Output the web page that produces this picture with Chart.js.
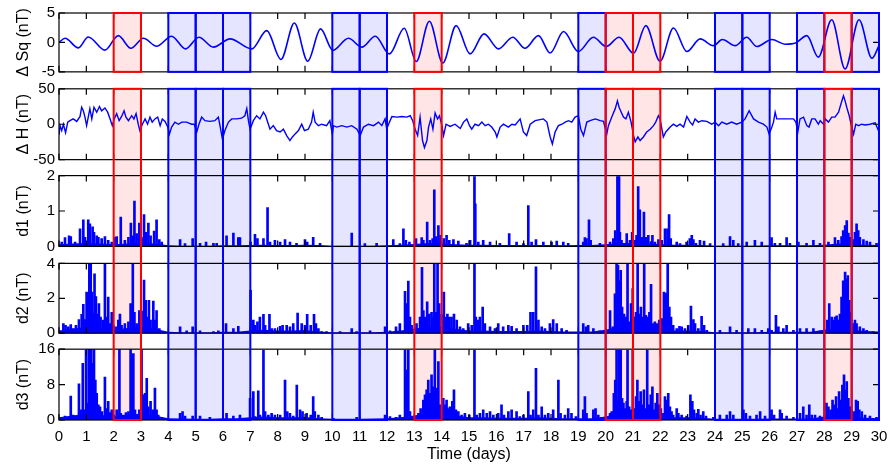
<!DOCTYPE html>
<html>
<head>
<meta charset="utf-8">
<script src="https://cdn.jsdelivr.net/npm/chart.js@4.4.1/dist/chart.umd.min.js"></script>
<style>
  body { margin: 0; background: #fff; }
  #wrap { width: 891px; height: 466px; }
</style>
</head>
<body>
<div id="wrap"><canvas id="myChart" width="891" height="466"></canvas></div>
<script>
// ---- data ----
const dayTicks = [0,1,2,3,4,5,6,7,8,9,10,11,12,13,14,15,16,17,18,19,20,21,22,23,24,25,26,27,28,29,30];
const sqTicks = [-5, 0, 5];
const hTicks = [-50, 0, 50];
const d1Ticks = [0, 1, 2];
const d2Ticks = [0, 2, 4];
const d3Ticks = [0, 8, 16];

// shaded days (box from day to day+1)
const redBoxes = [2, 13, 20, 21, 28];
const blueBoxes = [4, 5, 6, 10, 11, 19, 24, 25, 27, 29];

// delta Sq: turning points [day, nT]
const sqCurve = [[0,0],[0.22,0.7],[0.71,-0.93],[1.07,0.93],[1.68,-1.3],[2.17,1.15],[2.63,-1.0],[3.09,0.7],[3.57,-0.65],
  [4.12,1.05],[4.63,-1.1],[5.12,0.88],[5.65,-0.8],[6.26,0.6],[7.05,-1.1],[7.6,2.0],[8.12,-2.9],[8.61,3.3],[9.1,-3.2],
  [9.57,2.3],[10.02,-1.35],[10.59,0.7],[11.08,-0.8],[11.57,1.05],[12.09,-1.95],[12.63,2.4],[13.07,-3.25],[13.55,3.6],
  [14.04,-3.5],[14.53,2.85],[15.04,-1.95],[15.55,1.45],[16.08,-1.1],[16.6,0.88],[17.05,-1.0],[17.54,1.15],[17.97,-1.8],
  [18.46,1.85],[19.0,-1.55],[19.55,0.88],[20.02,-0.7],[20.49,0.88],[21.02,-1.85],[21.47,2.85],[21.99,-3.2],[22.48,2.45],
  [22.97,-1.55],[23.46,0.6],[23.94,-0.55],[24.27,0.5],[24.74,-0.55],[25.16,0.88],[25.53,-0.7],[26.08,0.5],[26.57,-0.3],
  [26.95,-0.1],[27.36,1.15],[27.78,-2.5],[28.27,3.85],[28.76,-4.5],[29.27,3.85],[29.74,-2.7],[30,-0.55]];

// delta H [day, nT]
const dH = [[0,-15],[0.04,-2],[0.1,-9],[0.16,0],[0.24,-12],[0.32,3],[0.4,5],[0.52,7.5],[0.65,4],[0.77,11],[0.83,24],[0.89,19],
  [0.95,10],[1.01,-2],[1.07,10],[1.13,22],[1.2,7.5],[1.28,24],[1.38,17],[1.48,25],[1.56,19],[1.68,23],[1.78,17],[1.87,7.5],
  [1.95,-2],[2.02,7.5],[2.11,15],[2.2,5],[2.29,11],[2.38,19],[2.45,10],[2.54,5],[2.66,12],[2.74,7.5],[2.82,15],[2.9,0],
  [2.96,-9],[3.05,0],[3.15,7.5],[3.24,0],[3.33,10],[3.41,3],[3.51,7.5],[3.61,10],[3.7,-2],[3.78,7.5],[3.88,4],[3.98,-4],
  [4.04,-14],[4.12,-4],[4.24,3],[4.37,0],[4.49,3],[4.67,3],[4.85,0],[4.95,0],[5.04,-11],[5.12,0],[5.22,10],[5.34,5],
  [5.52,4],[5.7,5],[5.83,10],[5.89,-2],[5.98,-21],[6.07,-9],[6.2,3],[6.32,7.5],[6.5,7.5],[6.68,8.5],[6.8,12],[6.87,22],
  [6.93,5],[6.99,-7],[7.11,5],[7.23,12],[7.35,7.5],[7.48,17],[7.56,12],[7.66,0],[7.72,-7],[7.84,-2],[7.96,-9],[8.09,-11],
  [8.21,-7],[8.33,-16],[8.45,-23],[8.54,-18],[8.63,-14],[8.76,-9],[8.88,0],[8.98,-9],[9.12,-7],[9.24,3],[9.3,17],[9.37,3],
  [9.49,-2],[9.61,0],[9.79,-2],[9.91,5],[10.0,-14],[10.04,-2],[10.16,-4],[10.35,-2],[10.53,-4],[10.71,-2],[10.9,-7],
  [11.02,-16],[11.14,-4],[11.32,0],[11.51,-2],[11.69,3],[11.81,-2],[11.93,7.5],[11.99,-7],[12.09,3],[12.18,11],[12.36,10],
  [12.54,11],[12.72,10],[12.85,12],[12.94,5],[13.03,-7],[13.12,-16],[13.21,10],[13.3,-23],[13.37,-33],[13.46,-23],
  [13.52,-4],[13.6,7.5],[13.68,-7],[13.76,16],[13.85,7.5],[13.92,12],[14.01,-2],[14.07,-16],[14.16,0],[14.31,-3],[14.49,0],
  [14.68,-6],[14.8,3],[14.92,7.5],[15.02,-2],[15.1,-7],[15.22,0],[15.35,-2],[15.47,3],[15.59,-2],[15.71,0],[15.83,-4],
  [15.96,-11],[16.02,-18],[16.14,-4],[16.26,0],[16.44,-4],[16.57,0],[16.69,-1],[16.87,7.5],[16.99,-11],[17.11,-16],
  [17.24,0],[17.42,5],[17.6,6.5],[17.72,7.5],[17.85,3],[17.97,-18],[18.05,-28],[18.15,-11],[18.27,-2],[18.4,0],[18.52,3],
  [18.64,5],[18.76,3],[18.88,10],[19.0,12],[19.09,-7],[19.19,-16],[19.31,3],[19.43,5],[19.62,7.5],[19.8,5],[19.92,4],
  [20.04,-14],[20.1,-2],[20.22,10],[20.35,22],[20.43,33],[20.49,24],[20.57,17],[20.65,10],[20.74,7.5],[20.83,17],[20.93,3],
  [21.02,-16],[21.08,-25],[21.18,-18],[21.26,-23],[21.38,-18],[21.5,-11],[21.63,-7],[21.75,-2],[21.83,3],[21.93,12],
  [21.99,7.5],[22.11,-18],[22.2,-11],[22.36,-4],[22.48,0],[22.6,-3],[22.72,0],[22.85,-4],[22.97,11],[23.09,3],[23.18,-1],
  [23.27,7.5],[23.39,3],[23.52,5],[23.7,4],[23.88,0],[24.0,3],[24.13,-2],[24.25,3],[24.43,0],[24.61,3],[24.79,0],[24.98,3],
  [25.1,7.5],[25.25,19],[25.41,7.5],[25.59,3],[25.77,0],[25.9,-4],[25.98,-14],[26.08,-4],[26.14,3],[26.2,17],[26.26,7.5],
  [26.44,7.5],[26.69,7.5],[26.87,7.5],[26.96,3],[27.03,-11],[27.11,7.5],[27.24,10],[27.36,-2],[27.44,-4],[27.54,7.5],
  [27.66,7.5],[27.78,0],[27.85,5],[27.97,0],[28.03,7.5],[28.15,3],[28.27,10],[28.39,10],[28.52,17],[28.61,29],[28.7,40],
  [28.76,33],[28.82,24],[28.91,12],[28.98,0],[29.07,-14],[29.15,0],[29.25,-2],[29.37,0],[29.49,-1],[29.67,0],[29.86,2],
  [29.96,-7],[30,-11]];

// detail spikes [day, nT]
const d1Spikes = [[0.1,0.12],[0.22,0.25],[0.37,0.3],[0.43,0.28],[0.59,0.12],[0.77,0.5],[0.89,0.75],[0.95,0.26],[1.07,0.75],
  [1.13,0.64],[1.23,0.55],[1.28,0.4],[1.38,0.3],[1.44,0.26],[1.56,0.22],[1.68,0.28],[1.8,0.17],[1.93,0.12],[2.05,0.26],
  [2.11,0.28],[2.26,0.83],[2.41,0.17],[2.54,0.26],[2.63,0.66],[2.7,0.3],[2.76,1.28],[2.84,0.36],[2.94,0.66],[3.02,0.25],
  [3.11,0.9],[3.18,0.4],[3.27,0.66],[3.35,0.3],[3.48,0.43],[3.57,0.75],[3.67,0.19],[3.76,0.12],[4.43,0.19],[4.61,0.08],
  [4.89,0.22],[5.16,0.09],[5.38,0.12],[5.65,0.09],[5.77,0.09],[6.13,0.3],[6.38,0.38],[6.56,0.25],[6.62,0.25],[7.01,0.12],
  [7.17,0.34],[7.26,0.22],[7.48,0.22],[7.63,1.1],[7.72,0.12],[7.9,0.17],[8.09,0.12],[8.27,0.19],[8.45,0.12],[8.69,0.09],
  [9.0,0.19],[9.08,0.12],[9.3,0.26],[9.55,0.09],[10.71,0.38],[11.19,0.08],[11.62,0.09],[12.23,0.19],[12.47,0.08],
  [12.6,0.5],[12.69,0.17],[12.82,0.12],[13.06,0.22],[13.27,0.25],[13.33,0.17],[13.47,0.69],[13.57,0.17],[13.67,0.22],
  [13.73,1.6],[13.79,0.28],[13.88,0.59],[13.96,0.31],[14.08,0.22],[14.18,0.31],[14.28,0.17],[14.43,0.19],[14.61,0.15],
  [14.91,0.09],[15.04,0.17],[15.2,1.97],[15.23,1.2],[15.34,0.12],[15.52,0.17],[15.77,0.12],[16.13,0.09],[16.47,0.36],
  [16.74,0.12],[16.99,0.08],[17.17,1.15],[17.29,0.12],[17.45,0.19],[17.72,0.12],[18.02,0.12],[18.21,0.15],[18.45,0.12],
  [18.63,0.09],[19.18,0.12],[19.24,0.25],[19.3,0.22],[19.39,0.75],[19.45,0.17],[19.79,0.09],[20.16,0.12],[20.28,0.22],
  [20.35,0.45],[20.43,1.97],[20.49,1.97],[20.52,0.4],[20.58,0.17],[20.67,0.09],[20.77,0.36],[20.89,0.17],[20.97,0.4],
  [21.07,0.17],[21.13,0.31],[21.19,1.69],[21.25,1.03],[21.32,0.26],[21.4,0.97],[21.47,0.26],[21.56,0.31],[21.66,0.14],
  [21.71,0.31],[21.8,0.12],[21.93,0.19],[22.05,0.17],[22.17,0.5],[22.26,0.5],[22.32,0.9],[22.38,0.22],[22.6,0.12],
  [22.72,0.08],[22.96,0.12],[23.08,0.22],[23.15,0.31],[23.21,0.19],[23.3,0.09],[23.45,0.17],[23.6,0.15],[23.82,0.08],
  [24.3,0.08],[24.55,0.28],[24.67,0.17],[24.85,0.08],[25.16,0.12],[25.46,0.17],[25.71,0.12],[26.07,0.25],[26.19,0.09],
  [26.38,0.09],[26.62,0.25],[26.74,0.09],[27.05,0.12],[27.35,0.09],[27.6,0.17],[27.84,0.09],[28.15,0.12],[28.39,0.25],
  [28.51,0.17],[28.63,0.28],[28.69,0.45],[28.76,0.59],[28.82,0.73],[28.88,0.38],[28.94,0.26],[29.04,0.19],[29.12,0.4],
  [29.18,0.64],[29.24,0.45],[29.3,0.26],[29.43,0.19],[29.55,0.15],[29.67,0.12],[29.91,0.09]];

const d2Spikes = [[0.16,0.55],[0.24,0.45],[0.34,0.36],[0.43,0.5],[0.52,0.27],[0.62,0.45],[0.73,0.78],[0.83,1.08],[0.89,1.65],
  [0.95,0.78],[1.01,2.35],[1.06,2.3],[1.11,4],[1.16,4],[1.21,2.35],[1.26,1.15],[1.3,3.4],[1.35,2.1],[1.4,1.1],[1.46,1.7],
  [1.52,0.93],[1.6,0.75],[1.68,4],[1.74,0.93],[1.8,2.07],[1.87,0.55],[1.93,1.2],[1.99,0.45],[2.09,0.36],[2.17,0.75],
  [2.23,1.1],[2.29,0.45],[2.41,0.55],[2.54,0.65],[2.62,1.7],[2.7,4],[2.76,1.2],[2.84,0.55],[2.94,1.3],[3.02,1.27],
  [3.11,3.05],[3.17,1.88],[3.23,0.93],[3.29,1.88],[3.35,0.75],[3.45,1.84],[3.51,0.75],[3.57,1.3],[3.67,0.27],[3.82,0.1],
  [4.43,0.36],[4.67,0.13],[4.89,0.36],[5.16,0.13],[5.65,0.1],[5.83,0.13],[6.11,0.55],[6.38,0.27],[6.56,0.4],[6.93,0.1],
  [7.01,2.45],[7.11,0.75],[7.17,0.45],[7.26,0.65],[7.35,0.93],[7.48,1.08],[7.54,0.45],[7.7,1.08],[7.78,0.27],[7.9,0.27],
  [8.09,0.4],[8.18,0.45],[8.33,0.45],[8.45,0.36],[8.57,0.55],[8.73,1.15],[8.88,0.55],[9.0,0.45],[9.08,1.08],[9.21,0.45],
  [9.33,1.08],[9.4,0.55],[9.49,0.27],[9.61,0.1],[9.79,0.1],[10.28,0.1],[10.71,0.27],[10.89,0.1],[11.38,0.13],[11.93,0.36],
  [12.11,0.13],[12.33,0.36],[12.47,0.55],[12.66,2.4],[12.72,1.7],[12.78,2.98],[12.84,0.93],[12.9,0.45],[13.08,0.55],
  [13.21,0.93],[13.28,3.77],[13.33,1.3],[13.39,0.93],[13.47,1.8],[13.55,1.1],[13.63,1.2],[13.69,0.93],[13.73,4],
  [13.79,1.2],[13.85,4],[13.91,1.7],[14.0,1.08],[14.08,2.35],[14.15,0.93],[14.21,1.1],[14.28,0.93],[14.36,0.93],
  [14.45,1.1],[14.55,0.75],[14.67,0.36],[14.79,0.27],[14.97,0.55],[15.1,0.45],[15.2,4],[15.25,0.93],[15.34,0.75],
  [15.4,0.93],[15.5,1.5],[15.58,0.55],[15.77,0.36],[15.95,0.27],[16.07,0.55],[16.25,0.36],[16.44,0.45],[16.56,0.4],
  [16.74,0.27],[16.99,0.45],[17.13,0.45],[17.25,1.2],[17.35,1.2],[17.45,3.8],[17.54,0.75],[17.66,0.36],[17.78,0.27],
  [17.96,0.55],[18.08,0.78],[18.21,0.55],[18.39,0.27],[18.57,0.17],[19.18,0.55],[19.28,0.36],[19.36,0.45],[19.55,0.27],
  [19.79,0.13],[20.16,1.3],[20.26,0.36],[20.34,2.25],[20.4,4],[20.45,3.9],[20.5,3],[20.55,3.6],[20.6,1.5],[20.67,1.1],
  [20.74,0.93],[20.8,4],[20.86,0.65],[20.93,1.7],[20.99,2.55],[21.05,0.93],[21.11,1.2],[21.17,4],[21.23,1.1],[21.29,1.5],
  [21.35,0.93],[21.41,4],[21.47,1.03],[21.54,0.93],[21.6,1.2],[21.66,2.8],[21.72,0.55],[21.8,0.65],[21.89,0.55],
  [21.96,0.75],[22.05,0.84],[22.13,2.35],[22.21,2.3],[22.27,4],[22.33,1.5],[22.39,0.93],[22.47,0.45],[22.6,0.27],
  [22.7,0.4],[22.78,0.36],[22.9,0.27],[23.02,0.45],[23.12,1.55],[23.21,0.78],[23.27,0.55],[23.39,0.27],[23.51,0.97],
  [23.6,0.45],[23.7,0.17],[24.18,0.17],[24.55,0.36],[24.79,0.17],[25.22,0.27],[25.46,0.27],[25.71,0.17],[25.95,0.27],
  [26.07,0.17],[26.23,1.02],[26.32,0.36],[26.5,0.27],[26.62,0.45],[26.87,0.17],[27.11,0.27],[27.35,0.27],[27.6,0.27],
  [27.84,0.13],[28.11,0.75],[28.18,1.7],[28.27,0.93],[28.33,0.75],[28.39,0.93],[28.45,1.0],[28.51,0.75],[28.57,1.1],
  [28.63,2.07],[28.69,3.0],[28.76,3.5],[28.82,3.1],[28.86,3.3],[28.91,1.88],[28.96,1.2],[29.04,0.55],[29.12,0.75],
  [29.18,0.55],[29.3,0.36],[29.43,0.27],[29.55,0.17],[29.79,0.1]];

const d3Spikes = [[0.1,0.6],[0.22,0.9],[0.34,0.6],[0.43,5.4],[0.52,1.1],[0.65,0.9],[0.73,8.15],[0.79,2.3],[0.87,12.8],
  [0.91,2.3],[0.99,15.8],[1.04,3.8],[1.09,16],[1.13,16],[1.18,16],[1.23,12.8],[1.28,16],[1.33,9],[1.38,6],[1.44,3.4],
  [1.5,3],[1.57,1.9],[1.68,9.7],[1.74,2.6],[1.8,4.2],[1.87,1.7],[1.93,2.3],[2.01,1.1],[2.11,2.3],[2.21,16],[2.26,1.5],
  [2.35,1.1],[2.45,1.7],[2.54,1.9],[2.62,16],[2.67,14.7],[2.72,15],[2.78,2.3],[2.84,1.1],[2.94,2.3],[3.02,16],[3.09,5.7],
  [3.15,6],[3.21,9.4],[3.27,3],[3.35,4.2],[3.43,2.3],[3.51,7.2],[3.57,2.3],[3.63,1.1],[3.76,0.6],[4.43,1.5],[4.52,1.9],
  [4.61,0.9],[4.89,0.9],[5.16,0.9],[5.52,0.6],[6.13,1.5],[6.38,0.9],[6.62,1.1],[6.99,4.9],[7.11,6.4],[7.17,0.8],
  [7.29,6.6],[7.35,1.1],[7.48,15.8],[7.54,1.9],[7.66,1.1],[7.78,1.5],[7.9,1.1],[8.09,1.1],[8.27,9],[8.35,1.9],[8.45,1.5],
  [8.57,0.9],[8.7,7.9],[8.82,2.3],[8.91,1.9],[9.06,1.5],[9.21,1.1],[9.3,5.3],[9.36,1.9],[9.49,1.1],[9.61,0.6],
  [10.04,0.4],[10.89,0.6],[11.93,1.1],[12.11,0.8],[12.33,0.6],[12.47,1.1],[12.66,15.8],[12.72,11.3],[12.78,15.8],
  [12.84,1.9],[12.96,0.4],[13.15,1.5],[13.23,2.6],[13.33,4.5],[13.39,5.7],[13.45,6.8],[13.51,9],[13.57,6],[13.63,10.2],
  [13.69,7.5],[13.75,15.8],[13.82,7.2],[13.88,13.2],[13.94,3.4],[14.0,3],[14.06,4.9],[14.12,3.4],[14.18,4.5],[14.24,2.6],
  [14.3,3],[14.39,4.2],[14.45,6.8],[14.52,2.3],[14.61,1.9],[14.73,1.1],[14.85,1.5],[15.01,1.1],[15.2,15.8],[15.28,1.1],
  [15.4,1.5],[15.52,2.3],[15.65,1.5],[15.77,1.9],[15.89,1.1],[16.07,1.5],[16.19,3.4],[16.28,1.1],[16.44,1.9],[16.56,2.3],
  [16.74,1.9],[16.86,0.8],[16.99,1.1],[17.17,6.4],[17.25,1.1],[17.35,2.3],[17.45,11.7],[17.54,1.1],[17.66,3],[17.78,1.1],
  [17.9,1.5],[18.08,2.3],[18.27,9],[18.35,1.5],[18.51,1.1],[18.63,2.6],[18.75,1.5],[18.91,0.8],[19.18,2.3],[19.24,5.3],
  [19.3,1.5],[19.55,2.3],[19.63,2.6],[19.73,1.1],[19.85,0.6],[20.16,1.5],[20.22,1.9],[20.3,6],[20.35,9],[20.4,15.8],
  [20.45,4.5],[20.5,15.8],[20.55,15.8],[20.6,4.9],[20.65,3.8],[20.71,2.6],[20.77,4.2],[20.8,15.8],[20.86,3],[20.93,2.3],
  [20.99,15.8],[21.05,2.6],[21.11,5.3],[21.16,9],[21.22,4.2],[21.28,6.4],[21.34,3.4],[21.4,6.8],[21.46,2.6],[21.52,15.8],
  [21.58,3.4],[21.65,5.7],[21.71,7.5],[21.77,2.3],[21.83,3.8],[21.89,6],[21.95,3.4],[22.02,2.6],[22.11,1.5],[22.17,5.3],
  [22.23,4.5],[22.29,6],[22.35,3],[22.41,1.9],[22.47,1.1],[22.6,2.6],[22.66,1.5],[22.78,1.1],[22.96,0.9],[23.1,5.7],
  [23.17,4.2],[23.23,2.3],[23.33,1.5],[23.39,2.4],[23.47,1.1],[23.57,1.9],[23.67,0.9],[23.94,0.6],[24.18,1.1],[24.43,1.1],
  [24.55,1.9],[24.67,1.1],[25.04,2.3],[25.13,1.5],[25.28,0.9],[25.52,1.1],[25.65,1.9],[25.83,0.9],[26.07,2.3],[26.16,1.1],
  [26.38,2.3],[26.44,1.5],[26.62,0.9],[26.87,0.6],[27.11,1.5],[27.23,3],[27.35,1.1],[27.45,3.4],[27.54,1.1],[27.66,1.1],
  [27.84,0.9],[28.08,3.8],[28.15,3],[28.23,2.3],[28.3,4.5],[28.37,3.4],[28.43,5.3],[28.48,2.6],[28.54,6.4],[28.6,4.5],
  [28.66,7.9],[28.72,10.2],[28.77,6.8],[28.82,8.7],[28.88,4.9],[28.94,3],[29.0,2.3],[29.08,1.9],[29.16,4.5],[29.22,4.2],
  [29.28,2.3],[29.37,1.9],[29.49,1.1],[29.67,0.9],[29.91,0.6]];

// background level of the detail panels, every half day
const floorDays = [0,0.5,1,1.5,2,2.5,3,3.5,4,4.5,5,5.5,6,6.5,7,7.5,8,8.5,9,9.5,10,10.5,11,11.5,12,12.5,13,13.5,14,14.5,
  15,15.5,16,16.5,17,17.5,18,18.5,19,19.5,20,20.5,21,21.5,22,22.5,23,23.5,24,24.5,25,25.5,26,26.5,27,27.5,28,28.5,29,29.5,30];
const d1Floor = [0.06,0.08,0.1,0.08,0.06,0.08,0.1,0.08,0.03,0.02,0.02,0.02,0.03,0.03,0.04,0.05,0.04,0.04,0.05,0.04,
  0.02,0.02,0.02,0.02,0.03,0.05,0.07,0.1,0.08,0.06,0.05,0.05,0.04,0.04,0.04,0.04,0.04,0.03,0.04,0.04,
  0.06,0.1,0.1,0.08,0.07,0.05,0.05,0.04,0.02,0.02,0.02,0.02,0.03,0.03,0.03,0.03,0.05,0.08,0.06,0.05,0.04];
const d2Floor = [0.15,0.25,0.35,0.3,0.2,0.3,0.35,0.25,0.08,0.06,0.05,0.05,0.08,0.08,0.15,0.2,0.15,0.15,0.18,0.1,
  0.05,0.05,0.05,0.06,0.08,0.15,0.25,0.4,0.35,0.25,0.15,0.15,0.12,0.12,0.12,0.15,0.12,0.1,0.1,0.1,
  0.2,0.4,0.4,0.35,0.3,0.15,0.15,0.12,0.06,0.06,0.06,0.06,0.08,0.08,0.08,0.08,0.2,0.35,0.2,0.12,0.1];
const d3Floor = [0.6,1.0,1.4,1.2,0.8,1.2,1.4,1.0,0.4,0.35,0.3,0.3,0.4,0.4,0.6,0.8,0.6,0.6,0.7,0.4,
  0.3,0.3,0.3,0.35,0.4,0.6,1.0,1.6,1.4,1.0,0.6,0.6,0.5,0.5,0.5,0.6,0.5,0.4,0.4,0.4,
  0.8,1.6,1.6,1.4,1.2,0.6,0.6,0.5,0.3,0.3,0.3,0.3,0.35,0.35,0.35,0.35,0.8,1.4,0.8,0.5,0.4];

// ---- chart ----
Chart.defaults.font.family = "'Liberation Sans', Arial, sans-serif";
Chart.defaults.color = '#000';

const BLUE = '#0000ff';
const pts = arr => arr.map(p => ({x: p[0], y: p[1]}));
const floorPts = vals => floorDays.map((d, i) => ({x: d, y: vals[i]}));

const panelTicks = {ySq: sqTicks, yH: hTicks, yD1: d1Ticks, yD2: d2Ticks, yD3: d3Ticks};

function panelAxis(title, ticks, weight, sw) {
  return {
    type: 'linear', position: 'left', stack: 'panels', stackWeight: sw, weight: weight,
    min: ticks[0], max: ticks[ticks.length - 1],
    afterBuildTicks: s => { s.ticks = ticks.map(v => ({value: v})); },
    afterFit: s => { s.width = 59; },
    grid: {display: false, drawTicks: false},
    border: {display: false},
    ticks: {font: {size: 15}, padding: 4, autoSkip: false},
    title: {display: true, text: title, font: {size: 16}, padding: {top: 14, bottom: 0}}
  };
}
function gapAxis(weight, sw) {
  return {type: 'linear', position: 'left', stack: 'panels', stackWeight: sw, weight: weight, display: false};
}

function drawBoxes(chart, fill) {
  const ctx = chart.ctx, x = chart.scales.x;
  const sq = chart.scales.ySq, h = chart.scales.yH, d3 = chart.scales.yD3;
  const spans = [[sq.top, sq.bottom], [h.top, d3.bottom]];
  ctx.save();
  [[blueBoxes, '0,0,255'], [redBoxes, '255,0,0']].forEach(([days, rgb]) => {
    days.forEach(d => {
      const x0 = x.getPixelForValue(d), x1 = x.getPixelForValue(d + 1);
      spans.forEach(([t, b]) => {
        if (fill) {
          ctx.fillStyle = 'rgba(' + rgb + ',0.1)';
          ctx.fillRect(x0, t, x1 - x0, b - t);
        } else {
          ctx.strokeStyle = 'rgb(' + rgb + ')';
          ctx.lineWidth = 2;
          ctx.strokeRect(x0, t, x1 - x0, b - t);
        }
      });
    });
  });
  ctx.restore();
}

const framePlugin = {
  id: 'frames',
  beforeDatasetsDraw(chart) { drawBoxes(chart, true); },
  afterDatasetsDraw(chart) {
    const ctx = chart.ctx, x = chart.scales.x;
    ctx.save();
    ctx.strokeStyle = '#000';
    ctx.lineWidth = 1.2;
    Object.keys(panelTicks).forEach(id => {
      const s = chart.scales[id];
      ctx.strokeRect(x.left, s.top, x.right - x.left, s.bottom - s.top);
      ctx.beginPath();
      dayTicks.forEach(d => {
        const px = x.getPixelForValue(d);
        ctx.moveTo(px, s.top); ctx.lineTo(px, s.top + 6);
        ctx.moveTo(px, s.bottom); ctx.lineTo(px, s.bottom - 6);
      });
      panelTicks[id].forEach(v => {
        const py = s.getPixelForValue(v);
        ctx.moveTo(x.left, py); ctx.lineTo(x.left + 6, py);
        ctx.moveTo(x.right, py); ctx.lineTo(x.right - 6, py);
      });
      ctx.stroke();
    });
    ctx.restore();
    drawBoxes(chart, false);
  }
};

const lineBase = {type: 'line', borderColor: BLUE, pointRadius: 0, tension: 0};
const barBase = {type: 'bar', backgroundColor: BLUE, borderWidth: 0, barThickness: 2, grouped: false};
const floorBase = {type: 'line', borderWidth: 0, pointRadius: 0, fill: 'origin', backgroundColor: BLUE, borderColor: BLUE};

new Chart(document.getElementById('myChart'), {
  type: 'line',
  data: {
    datasets: [
      Object.assign({}, lineBase, {data: pts(sqCurve), yAxisID: 'ySq', borderWidth: 1.6, cubicInterpolationMode: 'monotone'}),
      Object.assign({}, lineBase, {data: pts(dH), yAxisID: 'yH', borderWidth: 1.4}),
      Object.assign({}, barBase, {data: pts(d1Spikes), yAxisID: 'yD1'}),
      Object.assign({}, barBase, {data: pts(d2Spikes), yAxisID: 'yD2'}),
      Object.assign({}, barBase, {data: pts(d3Spikes), yAxisID: 'yD3'}),
      Object.assign({}, floorBase, {data: floorPts(d1Floor), yAxisID: 'yD1'}),
      Object.assign({}, floorBase, {data: floorPts(d2Floor), yAxisID: 'yD2'}),
      Object.assign({}, floorBase, {data: floorPts(d3Floor), yAxisID: 'yD3'})
    ]
  },
  options: {
    responsive: false,
    devicePixelRatio: 1,
    animation: false,
    layout: {padding: {top: 12, right: 12, bottom: 0, left: 0}},
    plugins: {legend: {display: false}, tooltip: {enabled: false}},
    scales: {
      x: {
        type: 'linear', position: 'bottom', min: 0, max: 30, offset: false,
        afterBuildTicks: s => { s.ticks = dayTicks.map(v => ({value: v})); },
        afterFit: s => { s.height = 46; s.paddingLeft = 0; s.paddingRight = 0; },
        grid: {display: false, drawTicks: false},
        border: {display: false},
        ticks: {font: {size: 15}, padding: 8, maxRotation: 0, autoSkip: false},
        title: {display: true, text: 'Time (days)', font: {size: 16}, padding: {top: 0, bottom: 2}}
      },
      ySq: panelAxis('\u0394 Sq (nT)', sqTicks, 9, 59),
      g1: gapAxis(8, 17),
      yH: panelAxis('\u0394 H (nT)', hTicks, 7, 71),
      g2: gapAxis(6, 16),
      yD1: panelAxis('d1 (nT)', d1Ticks, 5, 71),
      g3: gapAxis(4, 17),
      yD2: panelAxis('d2 (nT)', d2Ticks, 3, 70),
      g4: gapAxis(2, 16),
      yD3: panelAxis('d3 (nT)', d3Ticks, 1, 71)
    }
  },
  plugins: [framePlugin]
});
</script>
</body>
</html>
